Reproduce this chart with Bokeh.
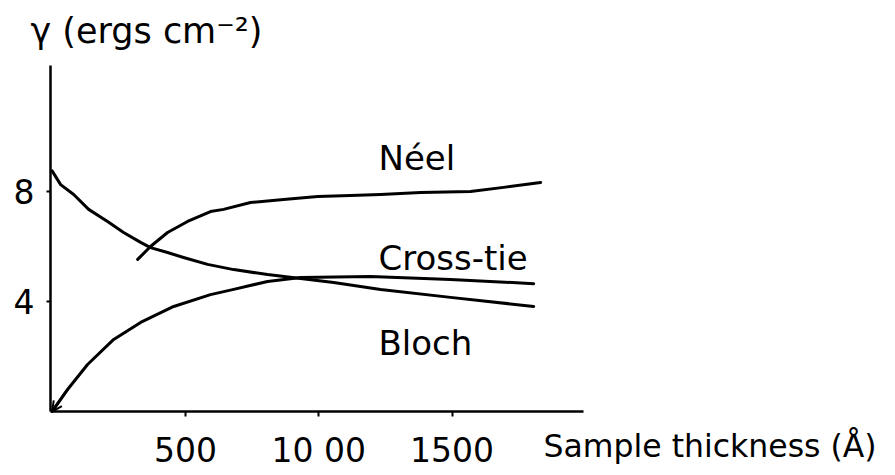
from bokeh.plotting import figure
from bokeh.models import Range1d, FixedTicker, Label, Arrow, OpenHead
from bokeh.embed import file_html
from bokeh.resources import INLINE

# ---- data ----
# descending curve (labelled "Bloch" at the right)
bloch_x = [0, 32, 81, 137, 208, 268, 332, 369, 433, 493, 583, 681, 808, 932, 1056, 1232, 1494, 1806]
bloch_y = [8.75, 8.25, 7.89, 7.35, 6.91, 6.51, 6.15, 5.96, 5.78, 5.60, 5.35, 5.16, 4.98, 4.84, 4.69, 4.44, 4.15, 3.82]

# rising curve from the origin (labelled "Cross-tie" at the right)
cross_x = [0, 58, 133, 231, 332, 456, 594, 681, 808, 932, 1194, 1494, 1806]
cross_y = [0, 0.8, 1.71, 2.62, 3.24, 3.82, 4.25, 4.44, 4.73, 4.87, 4.91, 4.80, 4.65]

# upper curve (labelled "Néel")
neel_x = [321, 369, 433, 508, 594, 643, 744, 868, 996, 1119, 1232, 1382, 1569, 1693, 1832]
neel_y = [5.53, 6.00, 6.51, 6.91, 7.27, 7.35, 7.60, 7.71, 7.82, 7.85, 7.89, 7.96, 8.00, 8.15, 8.33]

x_ticks = [500, 1000, 1500]
x_tick_labels = ["500", "10 00", "1500"]
y_ticks = [4, 8]
y_tick_labels = ["4", "8"]

y_title = "γ (ergs cm⁻²)"
x_title = "Sample thickness (Å)"
curve_names = ["Néel", "Cross-tie", "Bloch"]

FONT = "DejaVu Sans"
FS = "33px"

# the frame covers the whole canvas; the axes sit at fixed places inside it
p = figure(width=885, height=470, output_backend="svg", toolbar_location=None,
           title=None, x_range=Range1d(-193.5, 3125.3), y_range=Range1d(-2.145, 14.945),
           min_border=0)
p.outline_line_color = None
p.grid.visible = False
p.background_fill_color = "white"
p.border_fill_color = "white"

for ax in (p.xaxis[0], p.yaxis[0]):
    ax.axis_line_width = 2.5
    ax.axis_line_color = "black"
    ax.major_tick_line_width = 2
    ax.major_tick_line_color = "black"
    ax.major_tick_in = 0
    ax.minor_tick_line_color = None
    ax.major_label_text_font = FONT
    ax.major_label_text_font_size = FS
    ax.major_label_text_color = "black"

p.xaxis.fixed_location = 0
p.xaxis.bounds = (-6, 1993)
p.xaxis.ticker = FixedTicker(ticks=x_ticks)
p.xaxis.major_label_overrides = {t: l for t, l in zip(x_ticks, x_tick_labels)}
p.xaxis.major_tick_out = 5
p.xaxis.major_label_standoff = 14

p.yaxis.fixed_location = -6
p.yaxis.bounds = (0, 12.58)
p.yaxis.ticker = FixedTicker(ticks=y_ticks)
p.yaxis.major_label_overrides = {t: l for t, l in zip(y_ticks, y_tick_labels)}
p.yaxis.major_tick_out = 4
p.yaxis.major_label_standoff = 12

for xs, ys in ((bloch_x, bloch_y), (cross_x, cross_y), (neel_x, neel_y)):
    p.line(xs, ys, line_color="black", line_width=3, line_join="round", line_cap="round")

p.add_layout(Arrow(end=OpenHead(size=10, line_width=2, line_color="black"),
                   x_start=cross_x[1], y_start=cross_y[1],
                   x_end=cross_x[0], y_end=cross_y[0],
                   line_width=3, line_color="black"))

# curve labels
label_pos = [(1224, 9.20), (1224, 5.60), (1224, 2.50)]
for name, (lx, ly) in zip(curve_names, label_pos):
    p.add_layout(Label(x=lx, y=ly, text=name, text_font=FONT, text_font_size="34px",
                       text_color="black", text_baseline="middle", text_align="left"))

# axis titles
p.add_layout(Label(x=-81, y=13.82, text=y_title, text_font=FONT, text_font_size="35px",
                   text_color="black", text_baseline="middle", text_align="left"))
p.add_layout(Label(x=1843, y=-1.236, text=x_title, text_font=FONT, text_font_size="31.5px",
                   text_color="black", text_baseline="middle", text_align="left"))

open("out.html", "w").write(file_html(p, INLINE))
